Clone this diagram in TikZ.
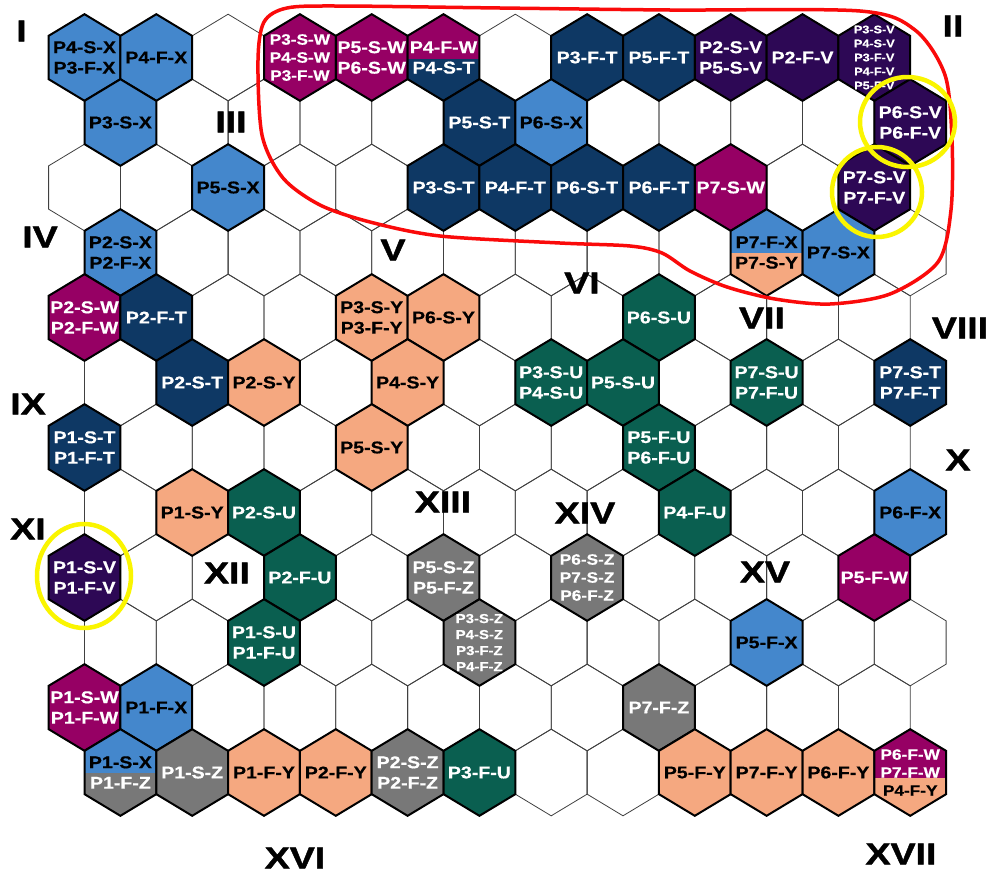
\documentclass[tikz,border=0pt]{standalone}
\usepackage{fontspec}
\setmainfont{Liberation Sans}
\newfontfamily\hexfont[FakeStretch=1.15,FakeBold=0.6]{Liberation Sans}
\newfontfamily\zonefont[FakeStretch=1.25,FakeBold=1.5]{Liberation Sans}

\definecolor{cellblue}{RGB}{68,135,204}
\definecolor{cellnavy}{RGB}{14,56,100}
\definecolor{cellmag}{RGB}{150,0,100}
\definecolor{cellpurple}{RGB}{45,8,85}
\definecolor{cellpeach}{RGB}{245,168,128}
\definecolor{cellteal}{RGB}{10,95,80}
\definecolor{cellgray}{RGB}{120,120,120}
\definecolor{loopred}{RGB}{250,10,10}
\definecolor{ringyellow}{RGB}{250,245,0}

\tikzset{
  gridhex/.style={draw=black!75, line width=0.8pt},
  cellhex/.style={draw=black, line width=2pt, line join=miter},
  celltext/.style={font=\hexfont\bfseries\fontsize{17}{20.5}\selectfont,
    text=white, align=center, inner sep=0pt},
  midtext/.style={font=\hexfont\bfseries\fontsize{15}{18}\selectfont},
  smalltext/.style={font=\hexfont\bfseries\fontsize{13}{16}\selectfont},
  tinytext/.style={font=\hexfont\bfseries\fontsize{11}{14}\selectfont},
  zonelabel/.style={font=\zonefont\bfseries\fontsize{30}{30}\selectfont, inner sep=0pt},
  redloop/.style={draw=loopred, line width=3.5pt},
  ringmark/.style={draw=ringyellow, line width=4.5pt},
}

% hexagon round the current cell centre (\cellx,\celly)
\newcommand{\hexpath}{(\cellx,\celly-43.3) -- ++(35.9,21.65) -- ++(0,43.3)
  -- ++(-35.9,21.65) -- ++(-35.9,-21.65) -- ++(0,-43.3) -- cycle}

% \hexcell[node options]{row}{col}{fill}{label}
\newcommand{\hexcell}[5][]{%
  \pgfmathsetmacro{\cellx}{84.5+71.8*#3+35.9*mod(#2,2)}%
  \pgfmathsetmacro{\celly}{57.5+65*#2}%
  \filldraw[cellhex,fill=#4] \hexpath;
  \node[celltext,#1] (cell-#2-#3) at (\cellx,\celly) {#5};
}

% \splitcell[node options]{row}{col}{top fill}{bottom fill}{split offset}{label}
\newcommand{\splitcell}[7][]{%
  \pgfmathsetmacro{\cellx}{84.5+71.8*#3+35.9*mod(#2,2)}%
  \pgfmathsetmacro{\celly}{57.5+65*#2}%
  \begin{scope}
    \clip \hexpath;
    \fill[#4] (\cellx-40,\celly-50) rectangle (\cellx+40,\celly+#6);
    \fill[#5] (\cellx-40,\celly+#6) rectangle (\cellx+40,\celly+50);
  \end{scope}
  \draw[cellhex] \hexpath;
  \node[celltext,#1] (cell-#2-#3) at (\cellx,\celly) {#7};
}

\begin{document}
\begin{tikzpicture}[x=1pt,y=-1pt]

\fill[white] (0,0) rectangle (993,873);
\useasboundingbox (0,0) rectangle (993,873);

% -------- empty grid --------
\foreach \r in {0,...,11}{
  \foreach \c in {0,...,11}{
    \pgfmathsetmacro{\cellx}{84.5+71.8*\c+35.9*mod(\r,2)}
    \pgfmathsetmacro{\celly}{57.5+65*\r}
    \draw[gridhex] \hexpath;
  }
}

% -------- row 0 --------
\hexcell[text=black]{0}{0}{cellblue}{P4-S-X\\P3-F-X}
\hexcell[text=black]{0}{1}{cellblue}{P4-F-X}
\hexcell[midtext]{0}{3}{cellmag}{P3-S-W\\P4-S-W\\P3-F-W}
\hexcell{0}{4}{cellmag}{P5-S-W\\P6-S-W}
\splitcell{0}{5}{cellmag}{cellnavy}{1}{P4-F-W\\P4-S-T}
\hexcell{0}{7}{cellnavy}{P3-F-T}
\hexcell{0}{8}{cellnavy}{P5-F-T}
\hexcell{0}{9}{cellpurple}{P2-S-V\\P5-S-V}
\hexcell{0}{10}{cellpurple}{P2-F-V}
\hexcell[tinytext]{0}{11}{cellpurple}{P3-S-V\\P4-S-V\\P3-F-V\\P4-F-V\\P5-F-V}

% -------- row 1 --------
\hexcell[text=black]{1}{0}{cellblue}{P3-S-X}
\hexcell{1}{5}{cellnavy}{P5-S-T}
\hexcell[text=black]{1}{6}{cellblue}{P6-S-X}
\hexcell{1}{11}{cellpurple}{P6-S-V\\P6-F-V}

% -------- row 2 --------
\hexcell[text=black]{2}{2}{cellblue}{P5-S-X}
\hexcell{2}{5}{cellnavy}{P3-S-T}
\hexcell{2}{6}{cellnavy}{P4-F-T}
\hexcell{2}{7}{cellnavy}{P6-S-T}
\hexcell{2}{8}{cellnavy}{P6-F-T}
\hexcell{2}{9}{cellmag}{P7-S-W}
\hexcell{2}{11}{cellpurple}{P7-S-V\\P7-F-V}

% -------- row 3 --------
\hexcell[text=black]{3}{0}{cellblue}{P2-S-X\\P2-F-X}
\splitcell[text=black]{3}{9}{cellblue}{cellpeach}{0}{P7-F-X\\P7-S-Y}
\hexcell[text=black]{3}{10}{cellblue}{P7-S-X}

% -------- row 4 --------
\hexcell{4}{0}{cellmag}{P2-S-W\\P2-F-W}
\hexcell{4}{1}{cellnavy}{P2-F-T}
\hexcell[text=black]{4}{4}{cellpeach}{P3-S-Y\\P3-F-Y}
\hexcell[text=black]{4}{5}{cellpeach}{P6-S-Y}
\hexcell{4}{8}{cellteal}{P6-S-U}

% -------- row 5 --------
\hexcell{5}{1}{cellnavy}{P2-S-T}
\hexcell[text=black]{5}{2}{cellpeach}{P2-S-Y}
\hexcell[text=black]{5}{4}{cellpeach}{P4-S-Y}
\hexcell{5}{6}{cellteal}{P3-S-U\\P4-S-U}
\hexcell{5}{7}{cellteal}{P5-S-U}
\hexcell{5}{9}{cellteal}{P7-S-U\\P7-F-U}
\hexcell{5}{11}{cellnavy}{P7-S-T\\P7-F-T}

% -------- row 6 --------
\hexcell{6}{0}{cellnavy}{P1-S-T\\P1-F-T}
\hexcell[text=black]{6}{4}{cellpeach}{P5-S-Y}
\hexcell{6}{8}{cellteal}{P5-F-U\\P6-F-U}

% -------- row 7 --------
\hexcell[text=black]{7}{1}{cellpeach}{P1-S-Y}
\hexcell{7}{2}{cellteal}{P2-S-U}
\hexcell{7}{8}{cellteal}{P4-F-U}
\hexcell[text=black]{7}{11}{cellblue}{P6-F-X}

% -------- row 8 --------
\hexcell{8}{0}{cellpurple}{P1-S-V\\P1-F-V}
\hexcell{8}{3}{cellteal}{P2-F-U}
\hexcell{8}{5}{cellgray}{P5-S-Z\\P5-F-Z}
\hexcell[midtext]{8}{7}{cellgray}{P6-S-Z\\P7-S-Z\\P6-F-Z}
\hexcell{8}{11}{cellmag}{P5-F-W}

% -------- row 9 --------
\hexcell{9}{2}{cellteal}{P1-S-U\\P1-F-U}
\hexcell[smalltext]{9}{5}{cellgray}{P3-S-Z\\P4-S-Z\\P3-F-Z\\P4-F-Z}
\hexcell[text=black]{9}{9}{cellblue}{P5-F-X}

% -------- row 10 --------
\hexcell{10}{0}{cellmag}{P1-S-W\\P1-F-W}
\hexcell[text=black]{10}{1}{cellblue}{P1-F-X}
\hexcell{10}{8}{cellgray}{P7-F-Z}

% -------- row 11 --------
\splitcell{11}{0}{cellblue}{cellgray}{0}{\textcolor{black}{P1-S-X}\\P1-F-Z}
\hexcell{11}{1}{cellgray}{P1-S-Z}
\hexcell[text=black]{11}{2}{cellpeach}{P1-F-Y}
\hexcell[text=black]{11}{3}{cellpeach}{P2-F-Y}
\hexcell{11}{4}{cellgray}{P2-S-Z\\P2-F-Z}
\hexcell{11}{5}{cellteal}{P3-F-U}
\hexcell[text=black]{11}{8}{cellpeach}{P5-F-Y}
\hexcell[text=black]{11}{9}{cellpeach}{P7-F-Y}
\hexcell[text=black]{11}{10}{cellpeach}{P6-F-Y}
\splitcell[midtext]{11}{11}{cellmag}{cellpeach}{5.5}{P6-F-W\\P7-F-W\\\textcolor{black}{P4-F-Y}}

% -------- zone numerals --------
\foreach \zn/\zx/\zy in {I/21.5/31, II/953/26, III/231/122, IV/40/237,
    V/393/250, VI/582/283, VII/762/318, VIII/960/328, IX/28/404,
    X/958/460, XI/28/529, XII/227/573, XIII/443/502, XIV/585/513,
    XV/765/572, XVI/295/858, XVII/901/854}
  \node[zonelabel] (zone\zn) at (\zx,\zy) {\zn};

% -------- red outline --------
\draw[redloop] plot[smooth cycle] coordinates {
  (258,60) (264,22) (287,8) (340,6) (500,8) (670,10) (860,11)
  (915,30) (945,75) (952,140) (951,210) (938,262) (890,294)
  (830,304) (775,299) (727,287) (690,271) (662,253) (630,246)
  (560,243) (440,236) (370,222) (320,205) (283,178) (262,135)};

% -------- yellow rings --------
\draw[ringmark] (907.5,122) ellipse (47.5 and 45);
\draw[ringmark] (877,192) ellipse (45 and 45);
\draw[ringmark] (84,576) ellipse (47 and 52);

\end{tikzpicture}
\end{document}
